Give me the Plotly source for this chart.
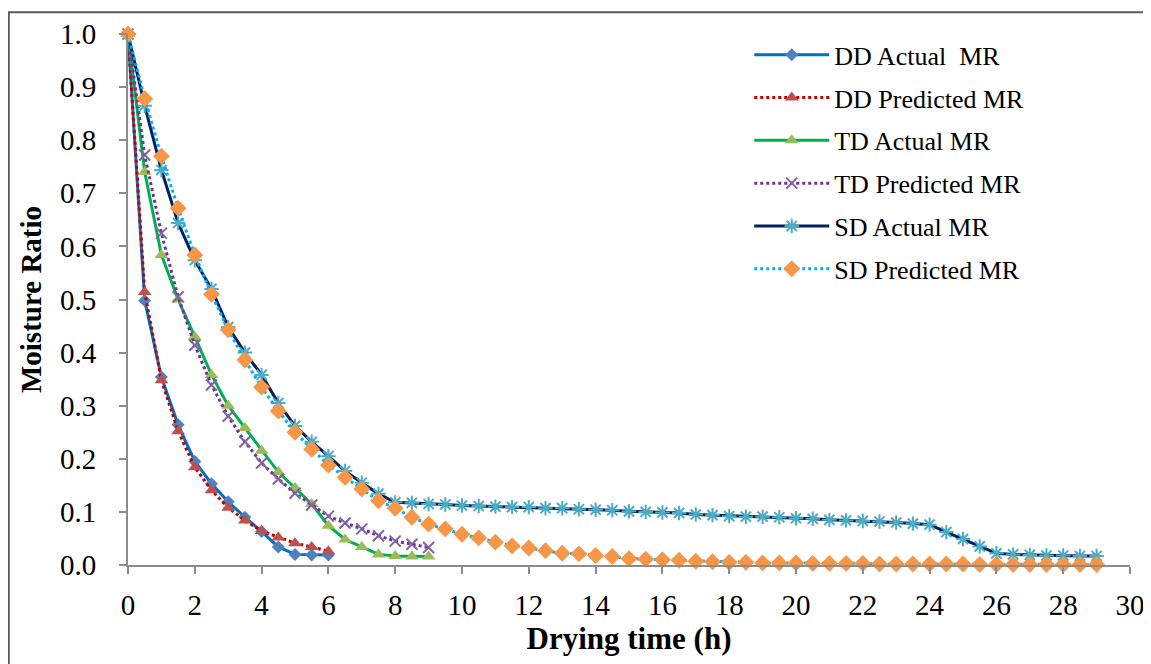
import plotly.graph_objects as go

# Drying time (h) for each dryer
dd_time = [0, 0.5, 1, 1.5, 2, 2.5, 3, 3.5, 4, 4.5, 5, 5.5, 6]
td_time = [0, 0.5, 1, 1.5, 2, 2.5, 3, 3.5, 4, 4.5, 5, 5.5, 6, 6.5, 7, 7.5, 8, 8.5, 9]
sd_time = [0, 0.5, 1, 1.5, 2, 2.5, 3, 3.5, 4, 4.5, 5, 5.5, 6, 6.5, 7, 7.5, 8, 8.5, 9, 9.5,
           10, 10.5, 11, 11.5, 12, 12.5, 13, 13.5, 14, 14.5, 15, 15.5, 16, 16.5, 17, 17.5,
           18, 18.5, 19, 19.5, 20, 20.5, 21, 21.5, 22, 22.5, 23, 23.5, 24, 24.5, 25, 25.5,
           26, 26.5, 27, 27.5, 28, 28.5, 29]

# Moisture ratio
dd_actual = [1.0, 0.498, 0.354, 0.264, 0.195, 0.153, 0.119, 0.090, 0.063, 0.034, 0.020, 0.019, 0.019]
dd_pred = [1.0, 0.514, 0.348, 0.252, 0.184, 0.141, 0.108, 0.084, 0.064, 0.052, 0.041, 0.034, 0.026]
td_actual = [1.0, 0.740, 0.584, 0.500, 0.430, 0.358, 0.300, 0.258, 0.215, 0.175, 0.145, 0.115,
             0.074, 0.048, 0.034, 0.020, 0.017, 0.016, 0.016]
td_pred = [1.0, 0.772, 0.625, 0.505, 0.414, 0.339, 0.280, 0.232, 0.192, 0.162, 0.135, 0.113,
           0.092, 0.079, 0.068, 0.055, 0.045, 0.039, 0.033]
sd_actual = [1.0, 0.865, 0.744, 0.644, 0.574, 0.520, 0.448, 0.400, 0.358, 0.305, 0.262, 0.232,
             0.205, 0.177, 0.155, 0.134, 0.118, 0.117, 0.115, 0.114, 0.112, 0.111, 0.110, 0.109,
             0.109, 0.107, 0.107, 0.105, 0.104, 0.103, 0.101, 0.100, 0.099, 0.098, 0.095, 0.094,
             0.092, 0.091, 0.091, 0.090, 0.088, 0.087, 0.085, 0.084, 0.083, 0.082, 0.080, 0.078,
             0.076, 0.062, 0.049, 0.035, 0.022, 0.020, 0.019, 0.018, 0.018, 0.017, 0.017]
sd_pred = [1.0, 0.878, 0.770, 0.672, 0.584, 0.510, 0.443, 0.386, 0.335, 0.290, 0.250, 0.218,
           0.188, 0.165, 0.143, 0.121, 0.107, 0.090, 0.077, 0.068, 0.058, 0.051, 0.043, 0.036,
           0.032, 0.027, 0.022, 0.021, 0.018, 0.016, 0.012, 0.011, 0.010, 0.009, 0.007, 0.006,
           0.005, 0.005, 0.004, 0.004, 0.004, 0.003, 0.003, 0.003, 0.003, 0.002, 0.002, 0.002,
           0.002, 0.002, 0.002, 0.001, 0.001, 0.001, 0.001, 0.001, 0.001, 0.001, 0.001]

FONT = "Liberation Serif, Times New Roman, serif"

fig = go.Figure()


def add(name, x, y, line_color, dash, symbol, m_color, m_size, m_line=None):
    marker = dict(symbol=symbol, size=m_size, color=m_color)
    if m_line:
        marker["line"] = dict(color=m_color, width=m_line)
    fig.add_trace(go.Scatter(
        x=x, y=y, name=name, mode="lines+markers", legendgroup=name,
        line=dict(color=line_color, width=3, dash=dash),
        marker=marker, cliponaxis=False,
    ))


add("DD Actual\u00a0 MR", dd_time, dd_actual, "#0070C0", "solid", "diamond", "#4F81BD", 10)
add("DD Predicted MR", dd_time, dd_pred, "#C00000", "dot", "triangle-up", "#C0504D", 12)
add("TD Actual MR", td_time, td_actual, "#00B050", "solid", "triangle-up", "#9BBB59", 12)
add("TD Predicted MR", td_time, td_pred, "#7030A0", "dot", "x-thin-open", "#8064A2", 11, 2)
add("SD Actual MR", sd_time, sd_actual, "#002060", "solid", "asterisk-open", "#4BACC6", 12, 2)
add("SD Predicted MR", sd_time, sd_pred, "#00B0F0", "dot", "diamond", "#F79646", 13)

axis_common = dict(
    showline=True, linecolor="#8C8C8C", linewidth=2, showgrid=False, zeroline=False,
    ticks="outside", ticklen=7, tickwidth=2, tickcolor="#8C8C8C", automargin=False,
    tickfont=dict(family=FONT, size=29, color="black"),
)

# the page body adds an 8px offset, so margins are shifted to compensate
fig.update_layout(
    width=1151, height=664,
    margin=dict(l=120, r=29, t=26, b=107),
    paper_bgcolor="white", plot_bgcolor="white",
    font=dict(family=FONT, color="black"),
    xaxis=dict(range=[0, 30], dtick=2, tick0=0, ticklabelstandoff=6,
               title=dict(text="<b>Drying time (h)</b>", font=dict(family=FONT, size=31), standoff=6),
               **axis_common),
    yaxis=dict(range=[0, 1], dtick=0.1, tick0=0, tickformat=".1f", ticklabelstandoff=17,
               title=dict(text="<b>Moisture Ratio</b>", font=dict(family=FONT, size=29), standoff=10),
               **axis_common),
    legend=dict(x=0.62, y=1.005, xanchor="left", yanchor="top",
                font=dict(family=FONT, size=26, color="black"),
                bgcolor="rgba(0,0,0,0)", traceorder="grouped", tracegroupgap=6,
                itemwidth=75),
    showlegend=True,
)

# outer frame of the chart area
fig.add_shape(type="rect", xref="paper", yref="paper",
              x0=-0.119, x1=1.018, y0=-0.2, y1=1.041,
              line=dict(color="#595959", width=2), fillcolor="rgba(0,0,0,0)", layer="below")

fig.write_html("out.html")
